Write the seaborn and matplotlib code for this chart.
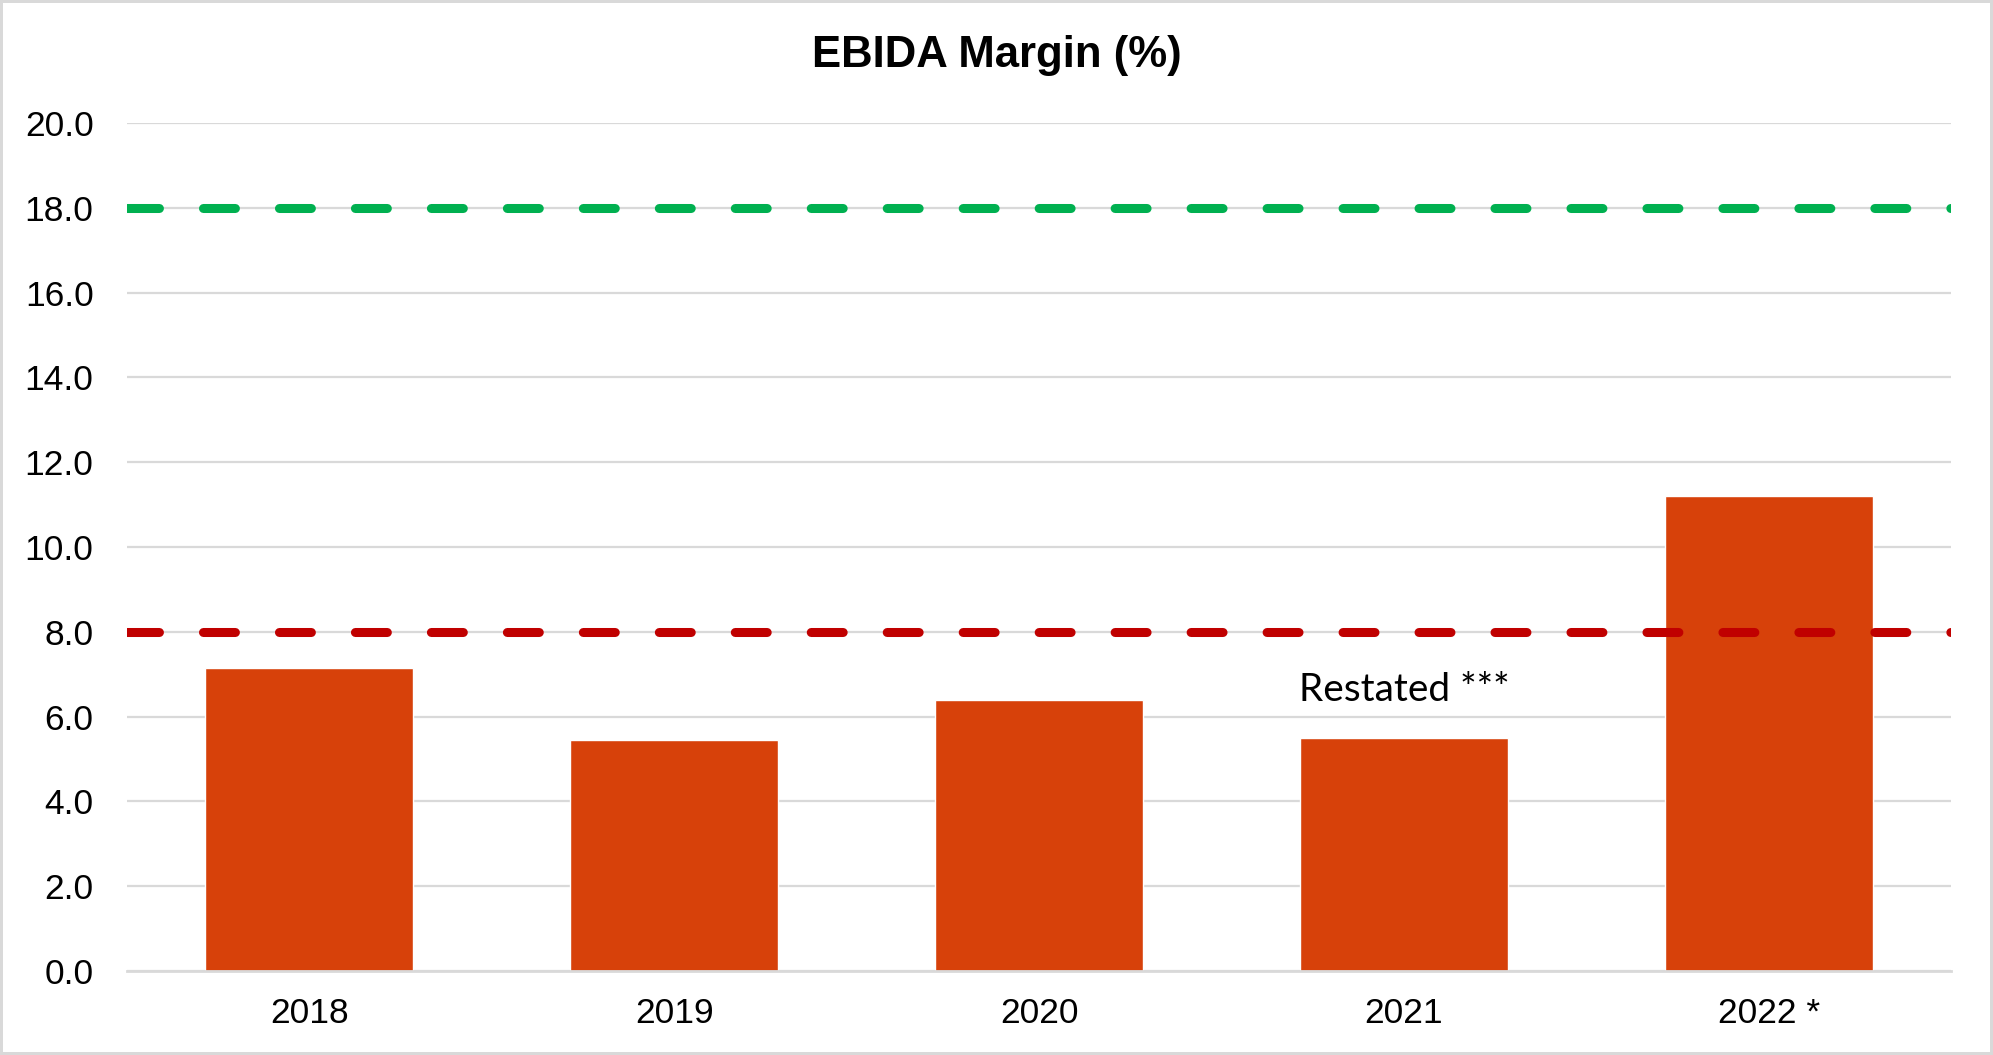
import pandas as pd
import matplotlib
matplotlib.use("Agg")
import matplotlib.pyplot as plt
import seaborn as sns

# chart data
years = ["2018", "2019", "2020", "2021", "2022 *"]
ebida_margin = [7.15, 5.46, 6.39, 5.49, 11.21]
upper_threshold = 18.0
lower_threshold = 8.0
y_ticks = [0, 2, 4, 6, 8, 10, 12, 14, 16, 18, 20]
note_text = "Restated ***"
note_year = "2021"
note_value = 6.63

sns.set_theme(style="white")
plt.rcParams['font.family'] = ['Liberation Sans', 'DejaVu Sans']
plt.rcParams['lines.scale_dashes'] = False

df = pd.DataFrame({'year': years, 'margin': ebida_margin})

fig = plt.figure(figsize=(19.93, 10.55), dpi=100)
fig.patch.set_edgecolor('#D9D9D9')
fig.patch.set_linewidth(3)
ax = fig.add_axes([0.0637, 0.0796, 0.9153, 0.8038])

sns.barplot(data=df, x='year', y='margin', color='#D7410A', width=0.57,
            saturation=1, ax=ax, zorder=2)

ax.set_ylim(0, 20)
ax.set_yticks(y_ticks)
ax.set_yticklabels([f"{v:.1f}" for v in y_ticks])
ax.yaxis.grid(True, color='#D9D9D9', linewidth=1.6, zorder=0)
ax.set_axisbelow(True)

# target lines
ax.axhline(upper_threshold, color='#00B050', linewidth=6.5, dashes=(23, 31.7),
           dash_capstyle='round', zorder=3)
ax.axhline(lower_threshold, color='#C00000', linewidth=6.5, dashes=(23, 31.7),
           dash_capstyle='round', zorder=3)

ax.text(years.index(note_year), note_value, note_text, ha='center', va='center',
        fontsize=28, family=['Lato', 'DejaVu Sans'], color='black')

fig.text(0.5, 0.947, "EBIDA Margin (%)", ha='center', va='center',
         fontsize=31.5, fontweight='bold', color='black')
ax.set_xlabel('')
ax.set_ylabel('')

for side in ['top', 'right', 'left']:
    ax.spines[side].set_visible(False)
ax.spines['bottom'].set_color('#D9D9D9')
ax.spines['bottom'].set_linewidth(2)

ax.tick_params(axis='y', length=0, pad=24, labelsize=25.5, labelcolor='black')
ax.tick_params(axis='x', length=0, pad=19, labelsize=25.5, labelcolor='black')

plt.savefig("out.png", dpi=100, edgecolor=fig.get_edgecolor())
plt.close()
